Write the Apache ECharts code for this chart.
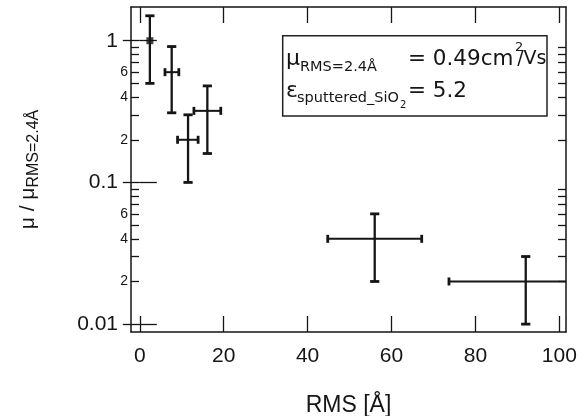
<!DOCTYPE html>
<html>
<head>
<meta charset="utf-8">
<script src="https://cdn.jsdelivr.net/npm/echarts@6/dist/echarts.min.js"></script>
<style>
html,body{margin:0;padding:0;background:#fff;}
#chart{width:586px;height:416px;}
</style>
</head>
<body>
<div id="chart"></div>
<script>
// ---- data ----
const rmsCenter = [2.4, 7.6, 11.5, 16.1, 56, 92];
const rmsLow    = [2.4, 6.0, 9.0, 12.9, 44.8, 73.7];
const rmsHigh   = [2.4, 9.3, 13.9, 19.3, 67.2, 110];
const muRatio   = [1, 0.6, 0.2, 0.32, 0.04, 0.02];
const muLow     = [0.5, 0.31, 0.1, 0.16, 0.02, 0.01];
const muHigh    = [1.5, 0.91, 0.3, 0.48, 0.06, 0.03];
const xTicks = [0, 20, 40, 60, 80, 100];
const yMajorTicks = [0.01, 0.1, 1];
const yMinorTicks = [0.02,0.03,0.04,0.05,0.06,0.07,0.08,0.09,0.2,0.3,0.4,0.5,0.6,0.7,0.8,0.9];
const yLabelValues = [0.01, 0.02, 0.04, 0.06, 0.1, 0.2, 0.4, 0.6, 1];
const yMajorLabels = ['0.01', '0.1', '1'];

const INK = '#151515';
const chart = echarts.init(document.getElementById('chart'), null, {renderer: 'canvas'});

function yLabelFmt(v) {
  const lg = Math.log10(v);
  const mi = yMajorTicks.findIndex(t => Math.abs(Math.log10(t) - lg) < 1e-6);
  if (mi >= 0) return '{maj|' + yMajorLabels[mi] + '}';
  const dec = Math.floor(lg + 1e-9);
  return '{min|' + Math.round(v / Math.pow(10, dec)) + '}';
}

const errData = rmsCenter.map((x, i) => [x, muRatio[i], rmsLow[i], rmsHigh[i], muLow[i], muHigh[i]]);

const yBase = {
  type: 'log', logBase: 10, min: 0.0088, max: 1.73,
  splitLine: {show: false}, axisLine: {show: false},
  axisLabel: {show: false}, axisTick: {show: false}
};

const option = {
  animation: false,
  backgroundColor: '#fff',
  grid: {left: 131, top: 7, right: 20, bottom: 84, containLabel: false, outerBoundsMode: 'none'},
  xAxis: [{
    type: 'value', min: -2.1, max: 101.6, position: 'bottom',
    splitLine: {show: false},
    axisLine: {show: true, onZero: false, lineStyle: {color: INK, width: 1.5}},
    axisTick: {show: true, inside: true, length: 16, customValues: xTicks, lineStyle: {color: INK, width: 1.3}},
    axisLabel: {show: true, customValues: xTicks, margin: 14, fontFamily: 'Liberation Sans', fontSize: 21, color: INK},
    name: 'RMS [Å]', nameLocation: 'middle', nameGap: 62,
    nameTextStyle: {fontFamily: 'Liberation Sans', fontSize: 23, color: INK}
  }, {
    type: 'value', min: -2.1, max: 101.6, position: 'top',
    splitLine: {show: false},
    axisLine: {show: true, onZero: false, lineStyle: {color: INK, width: 1.5}},
    axisTick: {show: true, inside: true, length: 16, customValues: xTicks, lineStyle: {color: INK, width: 1.3}},
    axisLabel: {show: false}
  }],
  yAxis: [Object.assign({}, yBase, {
    position: 'left',
    axisLine: {show: true, onZero: false, lineStyle: {color: INK, width: 1.5}},
    axisTick: {show: true, inside: true, length: 8, customValues: yMinorTicks, lineStyle: {color: INK, width: 1.3}},
    axisLabel: {
      show: true, customValues: yLabelValues, margin: 3, formatter: yLabelFmt,
      rich: {
        maj: {fontFamily: 'Liberation Sans', fontSize: 21, color: INK, padding: [0, 10, 0, 0]},
        min: {fontFamily: 'Liberation Sans', fontSize: 14, color: INK}
      }
    },
    name: '{m|μ / μ}{s|RMS=2.4Å}', nameLocation: 'middle', nameRotate: 90, nameGap: 89,
    nameTextStyle: {
      rich: {
        m: {fontFamily: 'Liberation Sans', fontSize: 21, color: INK},
        s: {fontFamily: 'Liberation Sans', fontSize: 16, color: INK, padding: [12, 0, 0, 0]}
      }
    }
  }), Object.assign({}, yBase, {
    position: 'left',
    axisTick: {show: true, inside: true, length: 17, customValues: yMajorTicks, lineStyle: {color: INK, width: 1.3}}
  }), Object.assign({}, yBase, {
    position: 'right',
    axisLine: {show: true, onZero: false, lineStyle: {color: INK, width: 1.5}},
    axisTick: {show: true, inside: true, length: 8, customValues: yMinorTicks, lineStyle: {color: INK, width: 1.3}}
  }), Object.assign({}, yBase, {
    position: 'right',
    axisTick: {show: true, inside: true, length: 17, customValues: yMajorTicks, lineStyle: {color: INK, width: 1.3}}
  })],
  series: [{
    type: 'custom',
    clip: true,
    xAxisIndex: 0, yAxisIndex: 0,
    data: errData,
    encode: {x: [0, 2, 3], y: [1, 4, 5]},
    renderItem: function (params, api) {
      const x = api.value(0), y = api.value(1);
      const xl = api.value(2), xh = api.value(3);
      const yl = api.value(4), yh = api.value(5);
      const pLo = api.coord([x, yl]);
      const pHi = api.coord([x, yh]);
      const pL = api.coord([xl, y]);
      const pR = api.coord([xh, y]);
      const cw = 4.6, ch = 4;
      const st = {stroke: INK, lineWidth: 2.3};
      const cap = {stroke: INK, lineWidth: 2.8};
      const kids = [
        {type: 'line', shape: {x1: pLo[0], y1: pLo[1], x2: pHi[0], y2: pHi[1]}, style: st},
        {type: 'line', shape: {x1: pLo[0] - cw, y1: pLo[1], x2: pLo[0] + cw, y2: pLo[1]}, style: cap},
        {type: 'line', shape: {x1: pHi[0] - cw, y1: pHi[1], x2: pHi[0] + cw, y2: pHi[1]}, style: cap}
      ];
      if (xh > xl) {
        kids.push({type: 'line', shape: {x1: pL[0], y1: pL[1], x2: pR[0], y2: pR[1]}, style: {stroke: INK, lineWidth: 2}});
        kids.push({type: 'line', shape: {x1: pL[0], y1: pL[1] - ch, x2: pL[0], y2: pL[1] + ch}, style: cap});
        kids.push({type: 'line', shape: {x1: pR[0], y1: pR[1] - ch, x2: pR[0], y2: pR[1] + ch}, style: cap});
      }
      return {type: 'group', children: kids};
    }
  }, {
    type: 'scatter',
    xAxisIndex: 0, yAxisIndex: 0,
    symbol: 'rect', symbolSize: 7,
    itemStyle: {color: INK},
    data: [[rmsCenter[0], muRatio[0]]]
  }],
  graphic: [
    {type: 'rect', shape: {x: 282.7, y: 35.7, width: 264.3, height: 80.3},
     style: {fill: '#fff', stroke: '#222', lineWidth: 1.5}, z: 10},
    {type: 'text', z: 11, style: {text: 'μ', x: 286, y: 59, font: '22px "DejaVu Sans"', fill: INK, align: 'left', verticalAlign: 'middle', textAlign: 'left', textVerticalAlign: 'middle'}},
    {type: 'text', z: 11, style: {text: 'RMS=2.4Å', x: 300, y: 67.6, font: '14.5px "DejaVu Sans"', fill: INK, align: 'left', verticalAlign: 'middle', textAlign: 'left', textVerticalAlign: 'middle'}},
    {type: 'text', z: 11, style: {text: '= 0.49cm', x: 408, y: 59, font: '21.5px "DejaVu Sans"', fill: INK, align: 'left', verticalAlign: 'middle', textAlign: 'left', textVerticalAlign: 'middle'}},
    {type: 'text', z: 11, style: {text: '2', x: 515, y: 48, font: '13px "DejaVu Sans"', fill: INK, align: 'left', verticalAlign: 'middle', textAlign: 'left', textVerticalAlign: 'middle'}},
    {type: 'text', z: 11, style: {text: '/Vs', x: 546.5, y: 59, font: '19px "DejaVu Sans"', fill: INK, align: 'right', verticalAlign: 'middle', textAlign: 'right', textVerticalAlign: 'middle'}},
    {type: 'text', z: 11, style: {text: 'ε', x: 286, y: 91, font: '22px "DejaVu Sans"', fill: INK, align: 'left', verticalAlign: 'middle', textAlign: 'left', textVerticalAlign: 'middle'}},
    {type: 'text', z: 11, style: {text: 'sputtered_SiO', x: 297, y: 98.2, font: '14.5px "DejaVu Sans"', fill: INK, align: 'left', verticalAlign: 'middle', textAlign: 'left', textVerticalAlign: 'middle'}},
    {type: 'text', z: 11, style: {text: '2', x: 400, y: 105.5, font: '10px "DejaVu Sans"', fill: INK, align: 'left', verticalAlign: 'middle', textAlign: 'left', textVerticalAlign: 'middle'}},
    {type: 'text', z: 11, style: {text: '= 5.2', x: 408, y: 91, font: '21.5px "DejaVu Sans"', fill: INK, align: 'left', verticalAlign: 'middle', textAlign: 'left', textVerticalAlign: 'middle'}}
  ]
};
chart.setOption(option);
</script>
</body>
</html>
